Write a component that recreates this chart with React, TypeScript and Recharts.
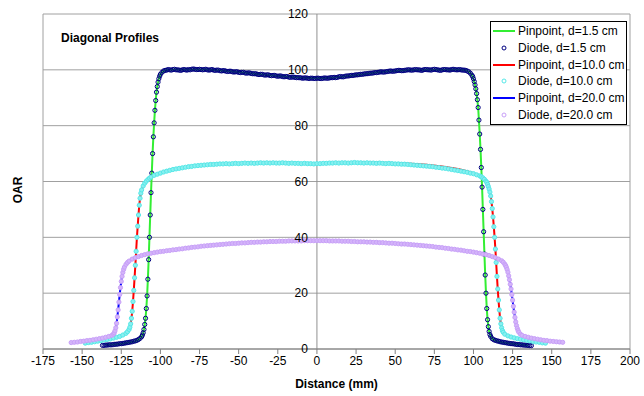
import {
  CartesianGrid,
  Legend,
  ReferenceDot,
  ReferenceLine,
  Scatter,
  ScatterChart,
  XAxis,
  YAxis,
} from "recharts";

type Pt = [number, number];

const xTicks = [-175, -150, -125, -100, -75, -50, -25, 0, 25, 50, 75, 100, 125, 150, 175, 200];
const yTicks = [0, 20, 40, 60, 80, 100, 120];

// Pinpoint chamber, d=1.5 cm (line)
const pinpoint15: Pt[] = [
  [-135, 1.4], [-130, 1.6], [-125, 1.9], [-120, 2.3], [-116, 2.8], [-114, 3.3], [-112, 4.3],
  [-111, 5.6], [-110.5, 7], [-110, 8.8], [-109.5, 11], [-109, 14.5], [-108.5, 19], [-108, 25],
  [-107.5, 32], [-107, 40], [-106.5, 48], [-106, 56], [-105.5, 63], [-105, 70], [-104.5, 76],
  [-104, 81], [-103.5, 85.5], [-103, 89], [-102.5, 92], [-102, 94], [-101, 96.8], [-100, 98.4],
  [-99, 99.1], [-97, 99.8], [-95, 100], [-90, 100.1], [-80, 100.1], [-70, 100.1], [-60, 99.7],
  [-50, 99.2], [-40, 98.6], [-30, 98.1], [-20, 97.6], [-10, 97.2], [0, 97], [10, 97.2], [20, 97.8],
  [30, 98.4], [40, 99.2], [50, 99.6], [60, 99.9], [70, 100], [80, 100], [90, 100.1], [95, 99.9],
  [97, 99.4], [99, 98.2], [100, 96.8], [101, 94.6], [102, 91.5], [103, 86.5], [104, 77],
  [104.5, 71.5], [105, 65], [105.5, 58], [106, 50], [106.5, 42], [107, 34], [107.5, 26.5],
  [108, 20], [108.5, 14.5], [109, 10.5], [109.5, 8], [110, 6.3], [111, 4.5], [112, 3.7],
  [114, 3.0], [116, 2.6], [120, 2.2], [125, 1.9], [130, 1.5], [135, 1.3],
];

// Diode, d=1.5 cm (points)
const diode15: Pt[] = [
  [-137, 1.3], [-136, 1.3], [-135, 1.4], [-134, 1.4], [-133, 1.5], [-132, 1.5], [-131, 1.5],
  [-130, 1.6], [-129, 1.7], [-128, 1.7], [-127, 1.8], [-126, 1.9], [-125, 1.9], [-124, 2.0],
  [-123, 2.1], [-122, 2.2], [-121, 2.3], [-120, 2.4], [-119, 2.5], [-118, 2.6], [-117, 2.8],
  [-116, 2.9], [-115, 3.1], [-114, 3.4], [-113, 3.8], [-112, 4.4], [-111.5, 5.0], [-111, 5.8],
  [-110.5, 7], [-110, 8.8], [-109.5, 11], [-109, 14.5], [-108.5, 19], [-108, 25], [-107.5, 32],
  [-107, 40], [-106.5, 48], [-106, 56], [-105.5, 63], [-105, 70], [-104.5, 76], [-104, 81],
  [-103.5, 85.5], [-103, 89], [-102.5, 92], [-102, 94], [-101.5, 95.6], [-101, 96.8],
  [-100.5, 97.7], [-100, 98.4], [-99, 99.1], [-98, 99.6], [-97, 99.8], [-96, 99.9], [-95, 100.1],
  [-94, 100.0], [-93, 99.9], [-92, 100.1], [-91, 100.2], [-90, 100.0], [-89, 100.0], [-88, 99.9],
  [-87, 99.8], [-86, 100.0], [-85, 100.1], [-84, 100.0], [-83, 99.9], [-82, 100.1], [-81, 100.0],
  [-80, 100.2], [-79, 100.3], [-78, 100.2], [-77, 100.1], [-76, 100.1], [-75, 100.2], [-74, 100.1],
  [-73, 100.0], [-72, 100.1], [-71, 100.2], [-70, 100.0], [-69, 99.9], [-68, 100.0], [-67, 100.1],
  [-66, 99.9], [-65, 99.8], [-64, 99.9], [-63, 99.9], [-62, 99.7], [-61, 99.6], [-60, 99.7],
  [-59, 99.7], [-58, 99.5], [-57, 99.4], [-56, 99.5], [-55, 99.5], [-54, 99.3], [-53, 99.2],
  [-52, 99.3], [-51, 99.3], [-50, 99.1], [-49, 99.0], [-48, 99.1], [-47, 99.1], [-46, 98.9],
  [-45, 98.8], [-44, 98.9], [-43, 98.9], [-42, 98.7], [-41, 98.6], [-40, 98.6], [-39, 98.6],
  [-38, 98.4], [-37, 98.3], [-36, 98.4], [-35, 98.4], [-34, 98.2], [-33, 98.1], [-32, 98.2],
  [-31, 98.2], [-30, 98.0], [-29, 97.9], [-28, 98.0], [-27, 98.0], [-26, 97.8], [-25, 97.7],
  [-24, 97.8], [-23, 97.8], [-22, 97.6], [-21, 97.5], [-20, 97.6], [-19, 97.6], [-18, 97.4],
  [-17, 97.3], [-16, 97.4], [-15, 97.4], [-14, 97.3], [-13, 97.2], [-12, 97.2], [-11, 97.2],
  [-10, 97.1], [-9, 97.0], [-8, 97.1], [-7, 97.1], [-6, 97.0], [-5, 96.9], [-4, 97.0], [-3, 97.0],
  [-2, 96.9], [-1, 96.9], [0, 97.0], [1, 97.0], [2, 96.9], [3, 96.9], [4, 97.0], [5, 97.1],
  [6, 97.0], [7, 97.0], [8, 97.1], [9, 97.2], [10, 97.2], [11, 97.3], [12, 97.2], [13, 97.3],
  [14, 97.5], [15, 97.6], [16, 97.5], [17, 97.5], [18, 97.7], [19, 97.8], [20, 97.8], [21, 97.9],
  [22, 98.0], [23, 98.0], [24, 98.1], [25, 98.2], [26, 98.2], [27, 98.3], [28, 98.4], [29, 98.4],
  [30, 98.5], [31, 98.6], [32, 98.6], [33, 98.7], [34, 98.8], [35, 98.8], [36, 98.9], [37, 99.0],
  [38, 99.0], [39, 99.1], [40, 99.2], [41, 99.3], [42, 99.2], [43, 99.2], [44, 99.3], [45, 99.4],
  [46, 99.5], [47, 99.6], [48, 99.5], [49, 99.5], [50, 99.6], [51, 99.7], [52, 99.8], [53, 99.8],
  [54, 99.7], [55, 99.7], [56, 99.8], [57, 99.9], [58, 100.0], [59, 100.0], [60, 99.9], [61, 99.9],
  [62, 100.0], [63, 100.1], [64, 100.0], [65, 100.0], [66, 99.9], [67, 99.8], [68, 100.0],
  [69, 100.1], [70, 100.1], [71, 100.0], [72, 100.0], [73, 99.9], [74, 100.1], [75, 100.2],
  [76, 100.1], [77, 100.0], [78, 99.9], [79, 99.8], [80, 100.0], [81, 100.1], [82, 100.1],
  [83, 100.0], [84, 100.0], [85, 99.9], [86, 100.1], [87, 100.2], [88, 100.1], [89, 100.0],
  [90, 100.0], [91, 100.1], [92, 100.0], [93, 99.9], [94, 99.9], [95, 99.8], [96, 99.6],
  [97, 99.3], [98, 98.8], [99, 98.1], [99.5, 97.6], [100, 96.8], [100.5, 95.8], [101, 94.6],
  [101.5, 93.2], [102, 91.5], [102.5, 89.3], [103, 86.5], [103.5, 82], [104, 77], [104.5, 71.5],
  [105, 65], [105.5, 58], [106, 50], [106.5, 42], [107, 34], [107.5, 26.5], [108, 20],
  [108.5, 14.5], [109, 10.5], [109.5, 8], [110, 6.3], [110.5, 5.2], [111, 4.5], [112, 3.7],
  [113, 3.3], [114, 3.1], [115, 2.9], [116, 2.8], [117, 2.6], [118, 2.5], [119, 2.4], [120, 2.3],
  [121, 2.2], [122, 2.1], [123, 2.0], [124, 1.9], [125, 1.9], [126, 1.8], [127, 1.7], [128, 1.6],
  [129, 1.6], [130, 1.5], [131, 1.5], [132, 1.4], [133, 1.4], [134, 1.3], [135, 1.3], [136, 1.2],
  [137, 1.2],
];

// Pinpoint chamber, d=10.0 cm (line)
const pinpoint100: Pt[] = [
  [-148, 2.1], [-140, 2.8], [-134, 3.4], [-128, 4.2], [-124, 5.0], [-122, 5.6], [-121, 6.2],
  [-120, 7.0], [-119.5, 7.8], [-119, 9], [-118.5, 11], [-118, 13.5], [-117.5, 17], [-117, 21],
  [-116.5, 25.5], [-116, 30], [-115.5, 35], [-115, 40], [-114.5, 44], [-114, 48], [-113.5, 51.5],
  [-113, 54], [-112.5, 55.8], [-112, 57], [-111, 58.4], [-110, 59.4], [-108, 60.7], [-106, 61.6],
  [-102, 62.7], [-98, 63.5], [-94, 64.1], [-90, 64.6], [-85, 65.1], [-80, 65.5], [-75, 65.8],
  [-70, 66.1], [-60, 66.4], [-50, 66.6], [-40, 66.7], [-30, 66.8], [-20, 66.7], [-10, 66.6],
  [0, 66.5], [10, 66.6], [20, 66.7], [30, 66.8], [40, 66.7], [50, 66.6], [60, 66.4], [70, 66.0],
  [80, 65.4], [90, 64.5], [96, 63.7], [100, 63.0], [104, 62.1], [106, 61.4], [107, 60.9],
  [108, 60.2], [109, 59.0], [110, 57.3], [110.5, 56.2], [111, 54.8], [111.5, 52.8], [112, 50.3],
  [112.5, 47.3], [113, 43.8], [113.5, 40], [114, 35.8], [114.5, 31], [115, 26], [115.5, 21.5],
  [116, 17.5], [116.5, 14], [117, 11], [117.5, 9], [118, 7.6], [118.5, 6.6], [119, 6.0],
  [120, 5.3], [124, 4.3], [130, 3.5], [136, 2.9], [142, 2.4], [146, 2.1],
];

// Diode, d=10.0 cm (points)
const diode100: Pt[] = [
  [-148, 2.1], [-146, 2.3], [-144, 2.4], [-142, 2.6], [-140, 2.8], [-138, 3.0], [-136, 3.2],
  [-134, 3.4], [-132, 3.6], [-130, 3.9], [-128, 4.2], [-126, 4.5], [-124, 5.0], [-122, 5.6],
  [-121, 6.2], [-120, 7.0], [-119.5, 7.8], [-119, 9], [-118.5, 11], [-118, 13.5], [-117.5, 17],
  [-117, 21], [-116.5, 25.5], [-116, 30], [-115.5, 35], [-115, 40], [-114.5, 44], [-114, 48],
  [-113.5, 51.5], [-113, 54], [-112.5, 55.8], [-112, 57], [-111, 58.4], [-110, 59.4], [-109, 60.1],
  [-108, 60.7], [-107, 61.2], [-106, 61.6], [-104, 62.2], [-102, 62.6], [-100, 63.0], [-98, 63.4],
  [-96, 63.7], [-94, 64.0], [-92, 64.3], [-90, 64.5], [-88, 64.7], [-86, 64.9], [-84, 65.1],
  [-82, 65.3], [-80, 65.4], [-78, 65.6], [-76, 65.7], [-74, 65.8], [-72, 65.9], [-70, 66.0],
  [-68, 66.1], [-66, 66.1], [-64, 66.2], [-62, 66.3], [-60, 66.3], [-58, 66.4], [-56, 66.3],
  [-54, 66.4], [-52, 66.5], [-50, 66.4], [-48, 66.5], [-46, 66.6], [-44, 66.5], [-42, 66.6],
  [-40, 66.5], [-38, 66.6], [-36, 66.7], [-34, 66.6], [-32, 66.7], [-30, 66.6], [-28, 66.7],
  [-26, 66.6], [-24, 66.6], [-22, 66.7], [-20, 66.6], [-18, 66.5], [-16, 66.6], [-14, 66.5],
  [-12, 66.5], [-10, 66.4], [-8, 66.5], [-6, 66.4], [-4, 66.4], [-2, 66.3], [0, 66.4], [2, 66.4],
  [4, 66.5], [6, 66.5], [8, 66.6], [10, 66.6], [12, 66.7], [14, 66.6], [16, 66.7], [18, 66.7],
  [20, 66.6], [22, 66.7], [24, 66.8], [26, 66.7], [28, 66.7], [30, 66.6], [32, 66.7], [34, 66.6],
  [36, 66.6], [38, 66.5], [40, 66.6], [42, 66.5], [44, 66.4], [46, 66.5], [48, 66.4], [50, 66.3],
  [52, 66.3], [54, 66.2], [56, 66.2], [58, 66.1], [60, 66.0], [62, 65.9], [64, 65.8], [66, 65.7],
  [68, 65.6], [70, 65.5], [72, 65.4], [74, 65.3], [76, 65.1], [78, 65.0], [80, 64.8], [82, 64.7],
  [84, 64.5], [86, 64.3], [88, 64.1], [90, 63.9], [92, 63.7], [94, 63.5], [96, 63.3], [98, 63.0],
  [100, 62.8], [102, 62.4], [104, 62.0], [105, 61.7], [106, 61.3], [107, 60.8], [108, 60.1],
  [108.5, 59.7], [109, 59.0], [109.5, 58.2], [110, 57.3], [110.5, 56.2], [111, 54.8],
  [111.5, 52.8], [112, 50.3], [112.5, 47.3], [113, 43.8], [113.5, 40], [114, 35.8], [114.5, 31],
  [115, 26], [115.5, 21.5], [116, 17.5], [116.5, 14], [117, 11], [117.5, 9], [118, 7.6],
  [118.5, 6.6], [119, 6.0], [120, 5.3], [122, 4.7], [124, 4.3], [126, 4.0], [128, 3.7],
  [130, 3.5], [132, 3.3], [134, 3.1], [136, 2.9], [138, 2.7], [140, 2.5], [142, 2.4], [144, 2.2],
  [146, 2.1],
];

// Pinpoint chamber, d=20.0 cm (line)
const pinpoint200: Pt[] = [
  [-156, 2.3], [-150, 2.7], [-145, 3.1], [-140, 3.6], [-135, 4.2], [-132, 4.7], [-130, 5.3],
  [-129.5, 5.8], [-129, 6.5], [-128.5, 7.6], [-128, 9.2], [-127.5, 11.5], [-127, 14],
  [-126.5, 16.8], [-126, 19.5], [-125.5, 22], [-125, 24.2], [-124.5, 26], [-124, 27.4],
  [-123.5, 28.5], [-123, 29.3], [-122, 30.3], [-121, 31.0], [-120, 31.5], [-118, 32.2],
  [-115, 32.9], [-110, 33.8], [-105, 34.4], [-100, 34.9], [-95, 35.3], [-90, 35.6], [-80, 36.4],
  [-70, 37.0], [-60, 37.5], [-50, 37.9], [-40, 38.2], [-30, 38.5], [-20, 38.6], [-10, 38.7],
  [0, 38.8], [10, 38.7], [20, 38.6], [30, 38.5], [40, 38.2], [50, 37.9], [60, 37.5], [70, 37.0],
  [80, 36.4], [90, 35.6], [100, 34.8], [105, 34.3], [110, 33.5], [114, 32.7], [116, 32.2],
  [118, 31.6], [119, 31.1], [120, 30.4], [120.5, 29.9], [121, 29.3], [121.5, 28.5], [122, 27.5],
  [122.5, 26.2], [123, 24.8], [123.5, 23.2], [124, 21.5], [124.5, 19.5], [125, 17.5],
  [125.5, 15.3], [126, 13.2], [126.5, 11.3], [127, 9.7], [127.5, 8.4], [128, 7.4], [128.5, 6.6],
  [129, 6.0], [130, 5.3], [131, 4.9], [133, 4.5], [136, 4.0], [140, 3.5], [145, 3.0],
  [150, 2.6], [156, 2.3],
];

// Diode, d=20.0 cm (points)
const diode200: Pt[] = [
  [-157, 2.3], [-155, 2.4], [-153, 2.5], [-151, 2.7], [-149, 2.8], [-147, 3.0], [-145, 3.1],
  [-143, 3.3], [-141, 3.5], [-139, 3.7], [-137, 3.9], [-135, 4.2], [-133, 4.5], [-131, 4.9],
  [-130, 5.3], [-129.5, 5.8], [-129, 6.5], [-128.5, 7.6], [-128, 9.2], [-127.5, 11.5], [-127, 14],
  [-126.5, 16.8], [-126, 19.5], [-125.5, 22], [-125, 24.2], [-124.5, 26], [-124, 27.4],
  [-123.5, 28.5], [-123, 29.3], [-122, 30.3], [-121, 31.0], [-120, 31.5], [-118, 32.2],
  [-116, 32.7], [-114, 33.1], [-112, 33.5], [-110, 33.8], [-108, 34.1], [-106, 34.3], [-104, 34.5],
  [-102, 34.7], [-100, 34.9], [-98, 35.0], [-96, 35.2], [-94, 35.3], [-92, 35.5], [-90, 35.6],
  [-88, 35.8], [-86, 35.9], [-84, 36.1], [-82, 36.2], [-80, 36.4], [-78, 36.5], [-76, 36.6],
  [-74, 36.8], [-72, 36.9], [-70, 37.0], [-68, 37.1], [-66, 37.2], [-64, 37.3], [-62, 37.4],
  [-60, 37.5], [-58, 37.6], [-56, 37.7], [-54, 37.8], [-52, 37.8], [-50, 37.9], [-48, 38.0],
  [-46, 38.0], [-44, 38.1], [-42, 38.2], [-40, 38.2], [-38, 38.3], [-36, 38.3], [-34, 38.4],
  [-32, 38.4], [-30, 38.5], [-28, 38.5], [-26, 38.5], [-24, 38.6], [-22, 38.6], [-20, 38.6],
  [-18, 38.7], [-16, 38.7], [-14, 38.7], [-12, 38.7], [-10, 38.7], [-8, 38.8], [-6, 38.8],
  [-4, 38.8], [-2, 38.8], [0, 38.8], [2, 38.8], [4, 38.8], [6, 38.8], [8, 38.7], [10, 38.7],
  [12, 38.7], [14, 38.7], [16, 38.6], [18, 38.6], [20, 38.6], [22, 38.5], [24, 38.5], [26, 38.4],
  [28, 38.4], [30, 38.4], [32, 38.3], [34, 38.3], [36, 38.2], [38, 38.2], [40, 38.1], [42, 38.1],
  [44, 38.0], [46, 37.9], [48, 37.9], [50, 37.8], [52, 37.7], [54, 37.6], [56, 37.6], [58, 37.5],
  [60, 37.4], [62, 37.3], [64, 37.2], [66, 37.1], [68, 37.0], [70, 36.9], [72, 36.8], [74, 36.7],
  [76, 36.5], [78, 36.4], [80, 36.3], [82, 36.1], [84, 36.0], [86, 35.8], [88, 35.7], [90, 35.5],
  [92, 35.4], [94, 35.2], [96, 35.0], [98, 34.9], [100, 34.7], [102, 34.5], [104, 34.3],
  [106, 34.0], [108, 33.8], [110, 33.5], [112, 33.1], [114, 32.7], [116, 32.2], [118, 31.6],
  [119, 31.1], [120, 30.4], [120.5, 29.9], [121, 29.3], [121.5, 28.5], [122, 27.5], [122.5, 26.2],
  [123, 24.8], [123.5, 23.2], [124, 21.5], [124.5, 19.5], [125, 17.5], [125.5, 15.3], [126, 13.2],
  [126.5, 11.3], [127, 9.7], [127.5, 8.4], [128, 7.4], [128.5, 6.6], [129, 6.0], [130, 5.3],
  [131, 4.9], [133, 4.5], [135, 4.2], [137, 3.9], [139, 3.7], [141, 3.5], [143, 3.3], [145, 3.1],
  [147, 3.0], [149, 2.8], [151, 2.7], [153, 2.6], [155, 2.5], [157, 2.4],
];

const FONT = "'Liberation Sans', Arial, sans-serif";
const GRID = "#a0a0a0";

const series = [
  { name: "Pinpoint, d=1.5 cm", pts: pinpoint15, color: "#33ee33", kind: "line", fill: "none" },
  { name: "Diode, d=1.5 cm", pts: diode15, color: "#000080", kind: "dot", fill: "none" },
  { name: "Pinpoint, d=10.0 cm", pts: pinpoint100, color: "#ff0000", kind: "line", fill: "none" },
  { name: "Diode, d=10.0 cm", pts: diode100, color: "#55e8e8", kind: "dot", fill: "#88f0f0" },
  { name: "Pinpoint, d=20.0 cm", pts: pinpoint200, color: "#0000ff", kind: "line", fill: "none" },
  { name: "Diode, d=20.0 cm", pts: diode200, color: "#c8a0f8", kind: "dot", fill: "#d4b4fa" },
];

const toRows = (pts: Pt[]) => pts.map(([x, y]) => ({ x, y }));

const ring = (color: string, fill: string) => (props: any) =>
  <circle cx={props.cx} cy={props.cy} r={2.1} fill={fill} stroke={color} strokeWidth={1} />;

const noDot = () => <g />;

const renderLegend = () => (
  <div
    style={{
      border: "1px solid #000",
      background: "#fff",
      padding: "1px 0",
      fontSize: 12,
      fontFamily: FONT,
      color: "#000",
    }}
  >
    {series.map((s) => (
      <div key={s.name} style={{ height: 16.7, display: "flex", alignItems: "center" }}>
        <svg width={27} height={10} style={{ flex: "none" }}>
          {s.kind === "line" ? (
            <line x1={2} y1={5} x2={24} y2={5} stroke={s.color} strokeWidth={2} />
          ) : (
            <circle cx={13} cy={5} r={2} fill="none" stroke={s.color} strokeWidth={1} />
          )}
        </svg>
        <span style={{ whiteSpace: "nowrap" }}>{s.name}</span>
      </div>
    ))}
  </div>
);

export default function App() {
  return (
    <div
      style={{
        position: "absolute",
        left: 0,
        top: 0,
        width: 644,
        height: 396,
        fontFamily: FONT,
        background: "#fff",
      }}
    >
      <ScatterChart width={644} height={396} margin={{ top: 14, right: 14, bottom: 7, left: 43 }}>
        <CartesianGrid stroke={GRID} vertical={false} />
        <XAxis
          type="number"
          dataKey="x"
          domain={[-175, 200]}
          ticks={xTicks}
          interval={0}
          height={40}
          stroke="#808080"
          tickSize={5}
          tick={{ fontSize: 12, fill: "#000" }}
          label={{
            value: "Distance (mm)",
            position: "insideBottom",
            offset: 1,
            fontSize: 12,
            fontWeight: "bold",
            fill: "#000",
          }}
        />
        <YAxis type="number" dataKey="y" domain={[0, 120]} ticks={yTicks} hide width={0} />
        <ReferenceLine x={-175} stroke={GRID} />
        <ReferenceLine x={200} stroke={GRID} />
        <ReferenceLine x={0} stroke="#909090" />
        {series.map((s) =>
          s.kind === "line" ? (
            <Scatter
              key={s.name}
              name={s.name}
              data={toRows(s.pts)}
              fill={s.color}
              line={{ stroke: s.color, strokeWidth: 2 }}
              shape={noDot}
              isAnimationActive={false}
            />
          ) : (
            <Scatter
              key={s.name}
              name={s.name}
              data={toRows(s.pts)}
              fill={s.color}
              shape={ring(s.color, s.fill)}
              isAnimationActive={false}
            />
          )
        )}
        {yTicks.map((v) => (
          <ReferenceDot
            key={v}
            x={0}
            y={v}
            r={0}
            fill="none"
            stroke="none"
            label={{ value: String(v), position: "left", offset: 9, fontSize: 12, fill: "#000" }}
          />
        ))}
        <Legend
          content={renderLegend}
          layout="vertical"
          align="center"
          verticalAlign="middle"
          wrapperStyle={{ left: 490, top: 21, width: 137 }}
        />
      </ScatterChart>
      <div
        style={{
          position: "absolute",
          left: 61,
          top: 30,
          fontSize: 12,
          fontWeight: "bold",
          lineHeight: "16px",
          whiteSpace: "nowrap",
        }}
      >
        Diagonal Profiles
      </div>
      <div
        style={{
          position: "absolute",
          left: 18,
          top: 190,
          fontSize: 12,
          fontWeight: "bold",
          lineHeight: "14px",
          transform: "translate(-50%, -50%) rotate(-90deg)",
        }}
      >
        OAR
      </div>
    </div>
  );
}
